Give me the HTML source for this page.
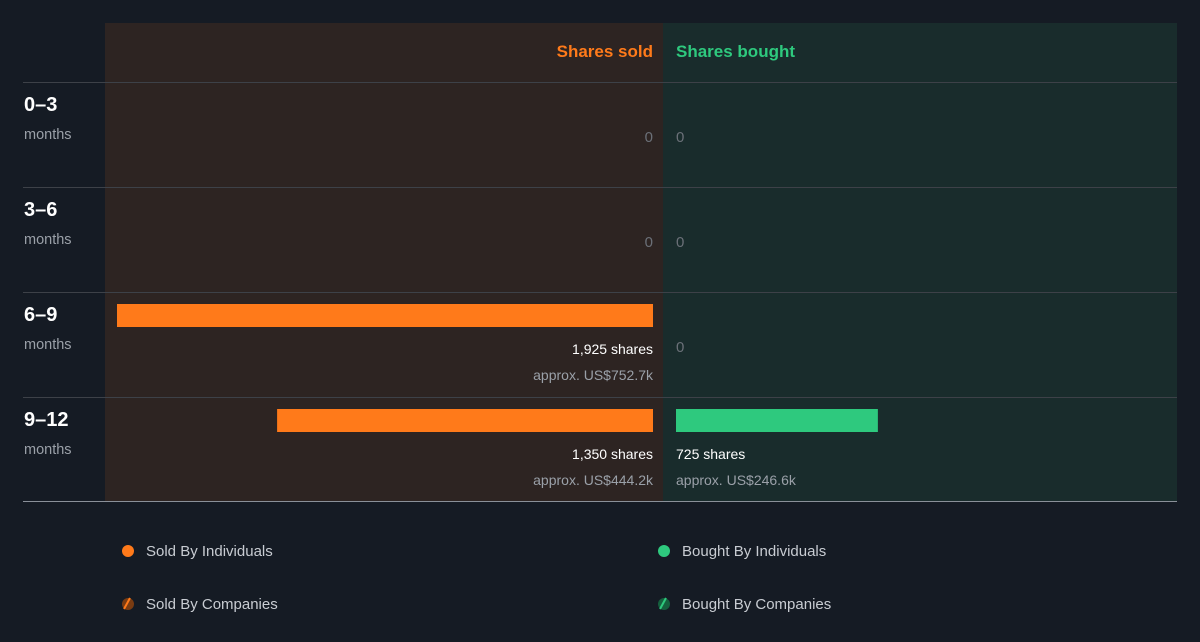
<!DOCTYPE html>
<html><head><meta charset="utf-8"><style>
body{margin:0;background:#151b24;width:1200px;height:637px;overflow:hidden;font-family:"Liberation Sans",sans-serif}
</style></head><body>
<svg id="c" width="1200" height="637" xmlns="http://www.w3.org/2000/svg" style="font-family:'Liberation Sans',sans-serif">
<rect x="0" y="0" width="1200" height="637" fill="#151b24"/>
<rect x="105" y="23" width="558" height="478" fill="#2d2422"/>
<rect x="663" y="23" width="514" height="478" fill="#192c2c"/>
<text x="653" y="57" text-anchor="end" fill="#ff7a1a" font-size="17" font-weight="bold">Shares sold</text>
<text x="676" y="57" fill="#2ec97e" font-size="17" font-weight="bold">Shares bought</text>
<g id="rows"></g>
<line x1="23" y1="501.5" x2="1177" y2="501.5" stroke="#8a9099" stroke-width="1"/>
<g>
<circle cx="128" cy="551" r="6" fill="#ff7a1a"/>
<text x="146" y="556" fill="#c8ccd2" font-size="15">Sold By Individuals</text>
<circle cx="664" cy="551" r="6" fill="#2ec97e"/>
<text x="682" y="556" fill="#c8ccd2" font-size="15">Bought By Individuals</text>
<g><circle cx="128" cy="604" r="6" fill="#7a3c12"/><line x1="124" y1="609" x2="130" y2="598" stroke="#ff7a1a" stroke-width="2"/></g>
<text x="146" y="609" fill="#c8ccd2" font-size="15">Sold By Companies</text>
<g><circle cx="664" cy="604" r="6" fill="#15603e"/><line x1="660" y1="609" x2="666" y2="598" stroke="#2ec97e" stroke-width="2"/></g>
<text x="682" y="609" fill="#c8ccd2" font-size="15">Bought By Companies</text>
</g>
</svg>
<script>
const periods=["0–3","3–6","6–9","9–12"];
const soldShares=[0,0,1925,1350];
const boughtShares=[0,0,0,725];
const soldValue=["","","US$752.7k","US$444.2k"];
const boughtValue=["","","","US$246.6k"];
const NS="http://www.w3.org/2000/svg";
const g=document.getElementById('rows');
const maxV=Math.max(...soldShares,...boughtShares);
const scale=v=>v*536/maxV;
const rowY=i=>82+i*105;
function mk(tag,attrs,txt){const e=document.createElementNS(NS,tag);for(const k in attrs)e.setAttribute(k,attrs[k]);if(txt!==undefined)e.textContent=txt;g.appendChild(e);return e;}
periods.forEach((p,i)=>{
  const y=rowY(i);
  const ln=mk('line',{x1:23,y1:y+0.5,x2:1177,y2:y+0.5,stroke:'#3d4148','stroke-width':1});
  
  
  const t=mk('text',{x:24,y:y+29,fill:'#ffffff','font-size':20,'font-weight':'bold'},p);
  
  
  const m=mk('text',{x:24,y:y+57,fill:'#9aa0a8','font-size':14.5},'months');
  
  
  [[soldShares[i],soldValue[i],true],[boughtShares[i],boughtValue[i],false]].forEach(([v,val,sold])=>{
    const anchor=sold?'end':'start', x=sold?653:676;
    if(v===0){
      const z=mk('text',{x:x,y:y+60,'text-anchor':anchor,fill:'#6b7078','font-size':15},'0');
      
      
      return;
    }
    const w=scale(v);
    const b=mk('rect',{x:sold?653-w:676,y:y+12,width:w,height:23,fill:sold?'#ff7a1a':'#2ec97e'});
    
    
    const s=mk('text',{x:x,y:y+62,'text-anchor':anchor,fill:'#ffffff','font-size':14},v.toLocaleString('en-US')+' shares');
    
    
    const a=mk('text',{x:x,y:y+88,'text-anchor':anchor,fill:'#9aa0a8','font-size':14},'approx. '+val);
    
    
  });
});
</script>
</body></html>
